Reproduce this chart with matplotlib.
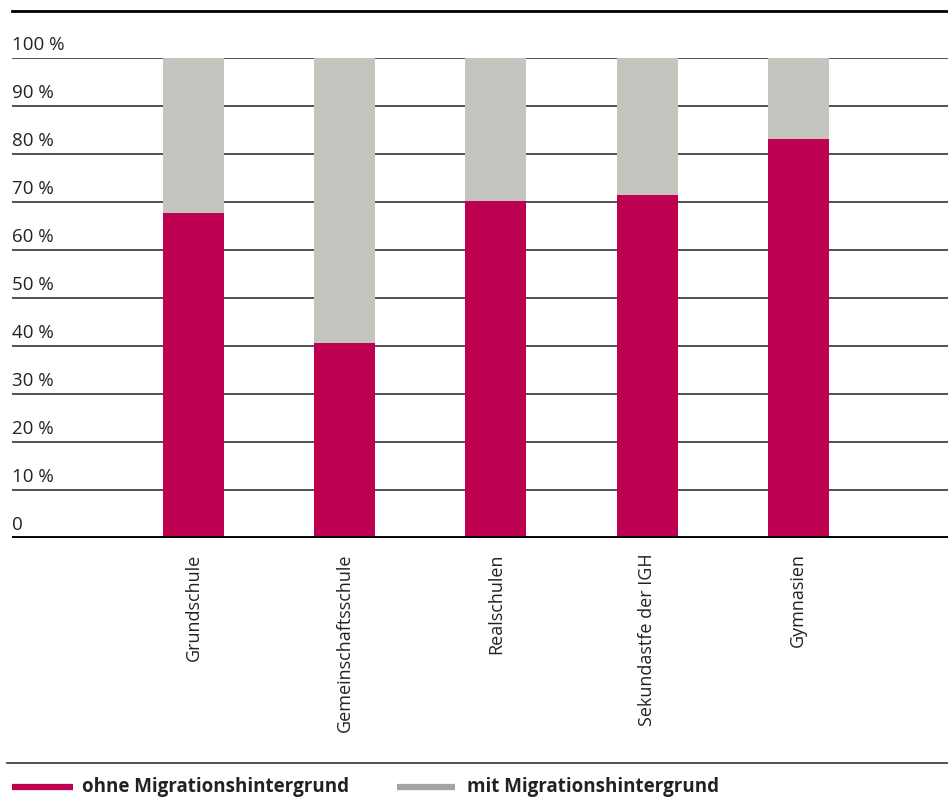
import matplotlib
matplotlib.use("Agg")
import matplotlib.pyplot as plt
from matplotlib.lines import Line2D
from matplotlib.transforms import blended_transform_factory

plt.rcParams['font.family'] = ['Open Sans', 'DejaVu Sans']

categories = ["Grundschule", "Gemeinschaftsschule", "Realschulen", "Sekundastfe der IGH", "Gymnasien"]
ohne = [67.7, 40.6, 70.2, 71.5, 83.1]
mit = [100 - v for v in ohne]
yticks = [0, 10, 20, 30, 40, 50, 60, 70, 80, 90, 100]
ytick_labels = ["0", "10 %", "20 %", "30 %", "40 %", "50 %", "60 %", "70 %", "80 %", "90 %", "100 %"]
legend_labels = ["ohne Migrationshintergrund", "mit Migrationshintergrund"]

c_ohne = "#BE0050"
c_mit = "#C4C5BF"
c_mit_legend = "#A3A3A3"

W, H = 948, 805
fig = plt.figure(figsize=(W / 100, H / 100), dpi=100)
ax = fig.add_axes([12 / W, 1 - 538 / H, (948 - 12) / W, (538 - 58) / H])

x = list(range(len(categories)))
ax.bar(x, ohne, width=0.403, color=c_ohne, zorder=3)
ax.bar(x, mit, width=0.403, bottom=ohne, color=c_mit, zorder=3)

ax.set_xlim(-1.2, 4.99)
ax.set_ylim(0, 100)

for t in yticks[1:]:
    ax.axhline(t, color="#333333", lw=1.2, zorder=1)
ax.axhline(0, color="black", lw=2.8, zorder=4)

trans = blended_transform_factory(ax.transAxes, ax.transData)
for t, lab in zip(yticks, ytick_labels):
    ax.text(0.0, t + 0.9, lab, transform=trans, ha="left", va="bottom",
            fontsize=13.5, color="#222222", clip_on=False)

for s in ax.spines.values():
    s.set_visible(False)
ax.set_yticks([])
ax.set_xticks(x)
ax.set_xticklabels(categories, rotation=90, fontsize=13, color="#222222")
ax.tick_params(axis="x", length=0, pad=11)

# top rule and bottom separator
fig.add_artist(Line2D([12 / W, 1.0], [1 - 11 / H, 1 - 11 / H], color="black", lw=2.0))
fig.add_artist(Line2D([7 / W, 1.0], [1 - 763 / H, 1 - 763 / H], color="#333333", lw=1.2))

# legend
ly = 1 - 787 / H
fig.add_artist(Line2D([12 / W, 73 / W], [ly, ly], color=c_ohne, lw=4.5, solid_capstyle="butt"))
fig.text(82 / W, ly, legend_labels[0], ha="left", va="center", fontsize=13.5, fontweight="bold", color="#222222")
fig.add_artist(Line2D([397 / W, 455 / W], [ly, ly], color=c_mit_legend, lw=4.5, solid_capstyle="butt"))
fig.text(467 / W, ly, legend_labels[1], ha="left", va="center", fontsize=13.5, fontweight="bold", color="#222222")

fig.savefig("out.png", dpi=100)
